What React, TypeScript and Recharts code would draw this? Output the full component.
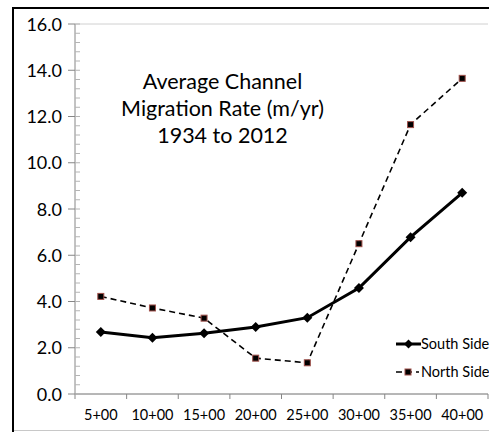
import React from "react";
import { ComposedChart, Line, XAxis, YAxis, CartesianGrid, Legend } from "recharts";

const stations = ["5+00", "10+00", "15+00", "20+00", "25+00", "30+00", "35+00", "40+00"];
const southSide = [2.68, 2.43, 2.63, 2.9, 3.3, 4.58, 6.78, 8.7];
const northSide = [4.22, 3.72, 3.28, 1.55, 1.35, 6.5, 11.65, 13.65];
const yTicks = [0, 2, 4, 6, 8, 10, 12, 14, 16];
const minorTicks = Array.from({ length: 41 }, (_, i) => Math.round(i * 4) / 10);
const titleLines = ["Average Channel", "Migration Rate (m/yr)", "1934 to 2012"];

const font = "Lato, 'Open Sans', sans-serif";
const axisGray = "#868686";
const gridGray = "#d0d0d0";
const northEdge = "#a0504a";

const data = stations.map((station, i) => ({
  station,
  south: southSide[i],
  north: northSide[i]
}));

function Diamond(props: any) {
  const { cx, cy } = props;
  if (cx == null || cy == null) return null;
  const r = 5;
  return <polygon points={`${cx},${cy - r} ${cx + r},${cy} ${cx},${cy + r} ${cx - r},${cy}`} fill="#000" />;
}

function Square(props: any) {
  const { cx, cy } = props;
  if (cx == null || cy == null) return null;
  return <rect x={cx - 3} y={cy - 3} width={6} height={6} fill="#000" stroke={northEdge} strokeWidth={1} />;
}

// category label at the band centre, tick mark on the band edges (Excel style)
function StationTick(props: any) {
  const { x, y, payload, index, visibleTicksCount, width } = props;
  const band = width / visibleTicksCount;
  const left = x - band / 2;
  return (
    <g>
      <line x1={left} y1={y} x2={left} y2={y + 5} stroke={axisGray} />
      {index === visibleTicksCount - 1 && <line x1={left + band} y1={y} x2={left + band} y2={y + 5} stroke={axisGray} />}
      <text x={x} y={y + 26} textAnchor="middle" fill="#000" fontSize={14.5} fontFamily={font}>
        {payload.value}
      </text>
    </g>
  );
}

// minor ticks every 0.4 pointing into the plot, major ticks + labels every 2.0
function ValueTick(props: any) {
  const { x, y, payload } = props;
  const major = yTicks.includes(payload.value);
  return (
    <g>
      <line x1={x} y1={y} x2={x + 5} y2={y} stroke="#b4b4b4" />
      {major && <line x1={x - 7} y1={y} x2={x} y2={y} stroke={axisGray} />}
      {major && (
        <text x={x - 13} y={y} dy={6.5} textAnchor="end" fill="#000" fontSize={18} fontFamily={font}>
          {payload.value.toFixed(1)}
        </text>
      )}
    </g>
  );
}

function LegendBox() {
  return (
    <div style={{ fontFamily: font, fontSize: 14.5, color: "#000", lineHeight: "28px", whiteSpace: "nowrap" }}>
      <div style={{ display: "flex", alignItems: "center" }}>
        <svg width={25} height={12}>
          <line x1={0} y1={6} x2={25} y2={6} stroke="#000" strokeWidth={3} />
          <polygon points="12.5,1.5 17,6 12.5,10.5 8,6" fill="#000" />
        </svg>
        <span>South Side</span>
      </div>
      <div style={{ display: "flex", alignItems: "center" }}>
        <svg width={25} height={12}>
          <line x1={0} y1={6} x2={23} y2={6} stroke="#000" strokeWidth={1.6} strokeDasharray="6 4" />
          <rect x={9} y={3} width={6} height={6} fill="#000" stroke={northEdge} strokeWidth={1} />
        </svg>
        <span>North Side</span>
      </div>
    </div>
  );
}

export default function App() {
  return (
    <div style={{ position: "fixed", left: 0, top: 0, width: 489, height: 432, background: "#fff", overflow: "hidden" }}>
      <div
        style={{
          position: "absolute",
          left: 12,
          top: 7,
          width: 600,
          height: 600,
          borderLeft: "2px solid #000",
          borderTop: "2px solid #000"
        }}
      />
      <div style={{ position: "absolute", left: 14, top: 430, width: 480, height: 1, background: "#c8c8c8" }} />
      <ComposedChart
        width={489}
        height={432}
        data={data}
        margin={{ top: 24, right: 1, left: 0, bottom: 0 }}
        style={{ position: "absolute", left: 0, top: 0, fontFamily: font }}
      >
        <CartesianGrid stroke={gridGray} vertical={false} yAxisId="grid" />
        <XAxis
          dataKey="station"
          scale="band"
          tickLine={false}
          axisLine={{ stroke: axisGray }}
          tick={<StationTick />}
          tickSize={0}
          tickMargin={0}
          interval={0}
          height={38}
        />
        <YAxis
          domain={[0, 16]}
          ticks={minorTicks}
          interval={0}
          axisLine={{ stroke: axisGray }}
          tickLine={false}
          tickSize={0}
          tickMargin={0}
          tick={<ValueTick />}
          width={75}
        />
        <YAxis yAxisId="grid" domain={[0, 16]} ticks={yTicks} interval={0} hide />
        <Legend
          layout="vertical"
          align="center"
          verticalAlign="middle"
          content={() => <LegendBox />}
          wrapperStyle={{ left: 396, top: 330, width: 100 }}
        />
        <Line
          dataKey="north"
          name="North Side"
          stroke="#000"
          strokeWidth={1.6}
          strokeDasharray="6 4"
          dot={<Square />}
          activeDot={false}
          isAnimationActive={false}
        />
        <Line
          dataKey="south"
          name="South Side"
          stroke="#000"
          strokeWidth={3}
          dot={<Diamond />}
          activeDot={false}
          isAnimationActive={false}
        />
      </ComposedChart>
      <div
        style={{
          position: "absolute",
          left: 107,
          top: 68,
          width: 231,
          background: "#fff",
          fontFamily: font,
          fontSize: 21.5,
          lineHeight: "27px",
          textAlign: "center",
          color: "#000"
        }}
      >
        {titleLines.map((line) => (
          <div key={line}>{line}</div>
        ))}
      </div>
    </div>
  );
}
